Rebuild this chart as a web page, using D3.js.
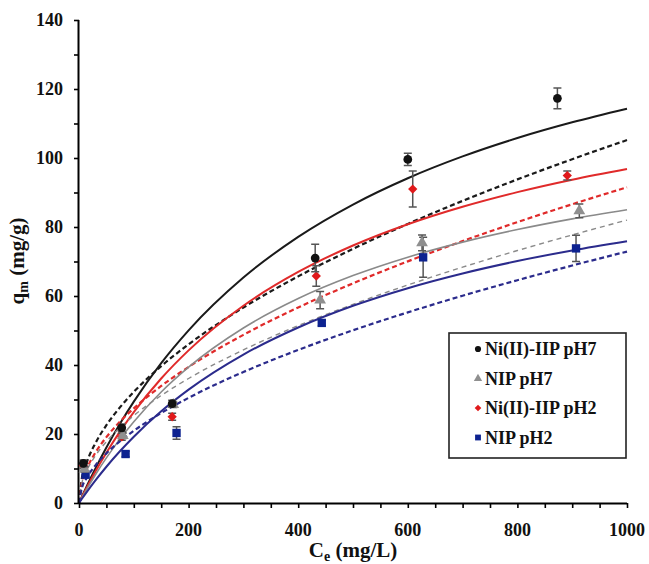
<!DOCTYPE html>
<html><head><meta charset="utf-8">
<script src="https://cdn.jsdelivr.net/npm/d3@7"></script>
<style>body{margin:0;background:#fff}svg{display:block}text{font-family:"Liberation Serif","Times New Roman",serif;font-weight:bold}</style>
</head><body>
<svg id="c" width="649" height="564"></svg>
<script>
// ---- data ----
const xTicks = [0, 200, 400, 600, 800, 1000];
const yTicks = [0, 20, 40, 60, 80, 100, 120, 140];
const seriesNames = ["Ni(II)-IIP pH7", "NIP pH7", "Ni(II)-IIP pH2", "NIP pH2"];

// measured points [Ce, q, err]
const iipPH7 = [[8,11.5,1.0],[78,21.8,1.0],[170,28.8,1.0],[431,71.0,4.0],[600,99.6,1.8],[873,117.3,3.0]];
const nipPH7 = [[10,9.8,0.8],[80,19.5,0.8],[172,28.5,0.8],[440,58.8,2.5],[626,75.4,2.3],[913,84.7,2.0]];
const iipPH2 = [[8,10.8,0.8],[78,19.2,1.0],[170,25.0,1.0],[433,65.8,3.0],[609,91.0,5.2],[891,94.9,1.3]];
const nipPH2 = [[12,8.2,0.8],[85,14.2,0.8],[178,20.3,1.8],[443,52.2,0.8],[628,71.2,5.8],[907,73.8,3.8]];

// fitted curves
const curveX = [0,5,15,30,50,75,100,150,200,300,400,500,600,700,800,900,1000];
const iipPH7Solid  = [0,1.76,5.18,10.04,16.10,23.05,29.39,40.54,50.04,65.34,77.14,86.51,94.14,100.46,105.79,110.34,114.28];
const iipPH7Dashed = [0,6.91,12.15,17.35,22.56,27.78,32.21,39.68,46.00,56.66,65.69,73.67,80.90,87.57,93.80,99.65,105.2];
const nipPH7Solid  = [0,1.45,4.24,8.20,13.07,18.59,23.56,32.18,39.38,50.72,59.26,65.91,71.25,75.62,79.27,82.36,85.01];
const nipPH7Dashed = [0,5.50,9.63,13.71,17.79,21.88,25.34,31.16,36.09,44.38,51.40,57.58,63.19,68.36,73.18,77.70,82.01];
const iipPH2Solid  = [0,1.61,4.72,9.13,14.57,20.76,26.35,36.08,44.24,57.18,66.97,74.63,80.80,85.87,90.11,93.71,96.80];
const iipPH2Dashed = [0,5.73,10.17,14.62,19.10,23.61,27.44,33.92,39.43,48.74,56.67,63.67,70.04,75.92,81.42,86.60,91.51];
const nipPH2Solid  = [0,1.15,3.37,6.55,10.51,15.06,19.22,26.57,32.85,43.01,50.88,57.16,62.27,66.53,70.13,73.20,75.87];
const nipPH2Dashed = [0,4.13,7.50,10.91,14.39,17.92,20.94,26.08,30.48,37.97,44.37,50.07,55.26,60.08,64.58,68.83,72.88];

// ---- drawing ----
const svg = d3.select("#c");
const L = 79, R = 627, T = 20, B = 503;
const x = d3.scaleLinear().domain([0, 1000]).range([L, R]);
const y = d3.scaleLinear().domain([0, 140]).range([B, T]);

const line = d3.line().x((d, i) => x(curveX[i])).y(d => y(d)).curve(d3.curveMonotoneX);

const curves = [
  {v: iipPH7Dashed, c: "#1a1a1a", w: 2.2, dash: "5,3"},
  {v: iipPH7Solid,  c: "#1a1a1a", w: 2, dash: null},
  {v: iipPH2Dashed, c: "#e02a2a", w: 2.2, dash: "5,3"},
  {v: iipPH2Solid,  c: "#e02a2a", w: 2, dash: null},
  {v: nipPH7Dashed, c: "#8a8a8a", w: 1.4, dash: "5,4"},
  {v: nipPH7Solid,  c: "#8a8a8a", w: 1.6, dash: null},
  {v: nipPH2Dashed, c: "#2b2b8c", w: 2.2, dash: "5,3"},
  {v: nipPH2Solid,  c: "#2b2b8c", w: 2, dash: null}
];
curves.forEach(cv => {
  svg.append("path").datum(cv.v).attr("d", line)
    .attr("fill", "none").attr("stroke", cv.c).attr("stroke-width", cv.w)
    .attr("stroke-dasharray", cv.dash);
});

// axes
const xAxis = svg.append("g").attr("transform", `translate(0,${B})`);
xAxis.call(d3.axisBottom(x).tickValues(d3.range(0, 1001, 50)).tickSize(5).tickFormat(""));
xAxis.call(g => g.select(".domain").attr("stroke-width", 2).attr("d", `M${L},0.5H${R}`));
xAxis.selectAll(".tick line").attr("stroke-width", 1.6);
xAxis.selectAll(".lbl").data(xTicks).enter().append("text")
  .attr("x", d => x(d)).attr("y", 33).attr("text-anchor", "middle")
  .attr("font-size", 18).attr("fill", "#111").text(d => d);

const yAxis = svg.append("g").attr("transform", `translate(${L},0)`);
yAxis.call(d3.axisLeft(y).tickValues(d3.range(0, 141, 10)).tickSize(5).tickFormat(""));
yAxis.call(g => g.select(".domain").attr("stroke-width", 2).attr("d", `M-0.5,${B}V${T}`));
yAxis.selectAll(".tick line").attr("stroke-width", 1.6);
yAxis.selectAll(".lbl").data(yTicks).enter().append("text")
  .attr("x", -16).attr("y", d => y(d)).attr("dy", "0.35em").attr("text-anchor", "end")
  .attr("font-size", 18).attr("fill", "#111").text(d => d);

// axis titles
const xt = svg.append("text").attr("x", 353).attr("y", 557).attr("text-anchor", "middle")
  .attr("font-size", 21).attr("fill", "#111");
xt.append("tspan").text("C");
xt.append("tspan").attr("font-size", 14).attr("dy", 4).text("e");
xt.append("tspan").attr("dy", -4).text(" (mg/L)");

const yt = svg.append("text").attr("transform", "translate(24,261) rotate(-90)")
  .attr("text-anchor", "middle").attr("font-size", 21).attr("fill", "#111");
yt.append("tspan").text("q");
yt.append("tspan").attr("font-size", 14).attr("dy", 4).text("m");
yt.append("tspan").attr("dy", -4).text(" (mg/g)");

// error bars + markers
const sets = [
  {d: nipPH2, c: "#0d2290", m: d3.symbolSquare, s: 70},
  {d: iipPH2, c: "#e0191b", m: d3.symbolDiamond2, s: 55},
  {d: nipPH7, c: "#8f8f8f", m: d3.symbolTriangle, s: 60},
  {d: iipPH7, c: "#111111", m: d3.symbolCircle, s: 60}
];
sets.forEach(st => {
  const g = svg.append("g");
  st.d.forEach(p => {
    const cx = x(p[0]), y1 = y(p[1] + p[2]), y2 = y(p[1] - p[2]);
    g.append("path").attr("d", `M${cx},${y1}V${y2}M${cx-4},${y1}H${cx+4}M${cx-4},${y2}H${cx+4}`)
      .attr("stroke", "#555").attr("stroke-width", 1.5).attr("fill", "none");
  });
  g.selectAll(".pt").data(st.d).enter().append("path")
    .attr("transform", p => `translate(${x(p[0])},${y(p[1])})`)
    .attr("d", d3.symbol().type(st.m).size(st.s)).attr("fill", st.c);
});

// legend
const lg = svg.append("g");
lg.append("rect").attr("x", 449).attr("y", 333).attr("width", 177).attr("height", 125)
  .attr("fill", "#fff").attr("stroke", "#222").attr("stroke-width", 1.6);
const legItems = [
  {c: "#111111", m: d3.symbolCircle, s: 30},
  {c: "#8f8f8f", m: d3.symbolTriangle, s: 30},
  {c: "#e0191b", m: d3.symbolDiamond2, s: 28},
  {c: "#0d2290", m: d3.symbolSquare, s: 34}
];
seriesNames.forEach((n, i) => {
  const cy = 349 + i * 29.5;
  lg.append("path").attr("transform", `translate(478,${cy})`)
    .attr("d", d3.symbol().type(legItems[i].m).size(legItems[i].s)).attr("fill", legItems[i].c);
  lg.append("text").attr("x", 485).attr("y", cy).attr("dy", "0.35em")
    .attr("font-size", 18).attr("fill", "#111").text(n);
});
</script>
</body></html>
